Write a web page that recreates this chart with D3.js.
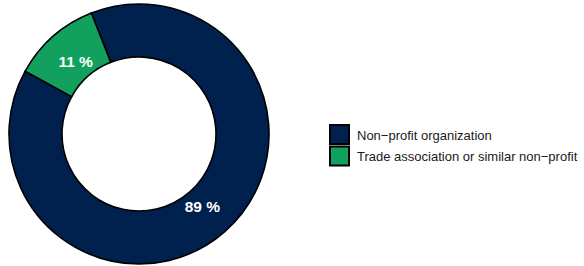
<!DOCTYPE html>
<html>
<head>
<meta charset="utf-8">
<script src="https://cdn.jsdelivr.net/npm/d3@7"></script>
<style>
  body { margin: 0; background: #fff; }
  svg text { font-family: "Liberation Sans", Arial, sans-serif; }
</style>
</head>
<body>
<div id="container"></div>
<script>
let categories = ["Non\u2212profit organization", "Trade association or similar non\u2212profit"];
let shares = [89, 11];
let colors = ["#00204e", "#12a05e"];

let width = 584, height = 266;
let cx = 139, cy = 134;
let outerR = 130, innerR = 77;
// pie rotated so the small slice sits top-left
let startDeg = -21.5;

let svg = d3.select('#container')
    .append('svg')
    .attr('width', width)
    .attr('height', height);

let data = categories.map((c, i) => ({ name: c, value: shares[i], color: colors[i] }));

let pie = d3.pie()
    .sort(null)
    .value(d => d.value)
    .startAngle(startDeg * Math.PI / 180)
    .endAngle((startDeg + 360) * Math.PI / 180);

let arc = d3.arc().innerRadius(innerR).outerRadius(outerR);
let labelArc = d3.arc().innerRadius(96).outerRadius(96);

let g = svg.append('g').attr('transform', `translate(${cx},${cy})`);
let arcs = pie(data);

g.selectAll('path.slice')
    .data(arcs)
    .enter().append('path')
    .attr('class', 'slice')
    .attr('d', arc)
    .style('fill', d => d.data.color)
    .style('stroke', '#000')
    .style('stroke-width', 1.6);

g.selectAll('text.lbl')
    .data(arcs)
    .enter().append('text')
    .attr('class', 'lbl')
    .attr('transform', d => `translate(${labelArc.centroid(d)})`)
    .attr('text-anchor', 'middle')
    .attr('dy', '0.36em')
    .style('fill', '#fff')
    .style('font-size', '15.5px')
    .style('font-weight', 'bold')
    .text(d => d.data.value + ' %');

// legend
let legend = svg.append('g').attr('transform', 'translate(330,125)');
let item = legend.selectAll('g.item')
    .data(data)
    .enter().append('g')
    .attr('class', 'item')
    .attr('transform', (d, i) => `translate(0,${i * 21.5})`);

item.append('rect')
    .attr('x', 0).attr('y', 0)
    .attr('width', 19).attr('height', 19)
    .style('fill', d => d.color)
    .style('stroke', '#000')
    .style('stroke-width', 2);

item.append('text')
    .attr('x', 27)
    .attr('y', 10)
    .attr('dy', '0.36em')
    .style('font-size', '13px')
    .style('fill', '#1a1a1a')
    .text(d => d.name);
</script>
</body>
</html>
